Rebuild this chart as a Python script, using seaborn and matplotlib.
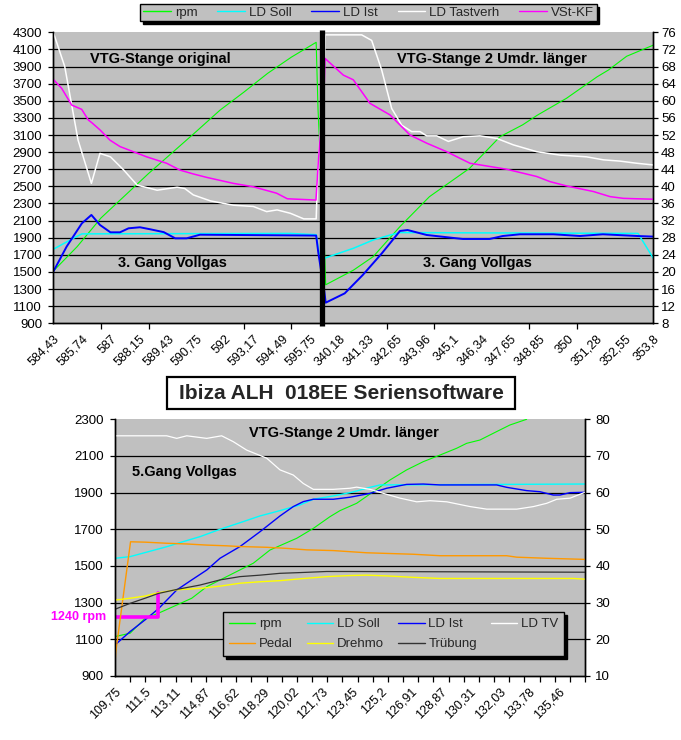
import matplotlib
matplotlib.use("Agg")
import matplotlib.pyplot as plt
import seaborn as sns
from matplotlib.lines import Line2D
from matplotlib.patches import Rectangle

# ---------------- TOP CHART DATA (x = sample index, 0..630) ----------------
top_tick_labels = ["584,43", "585,74", "587", "588,15", "589,43", "590,75", "592", "593,17",
                   "594,49", "595,75", "340,18", "341,33", "342,65", "343,96", "345,1", "346,34",
                   "347,65", "348,85", "350", "351,28", "352,55", "353,8"]
top_label_pos = list(range(0, 631, 30))
top_tick_pos = list(range(0, 601, 50))
top_break = 281.8

rpm_x = [0, 25, 50, 100, 150, 175, 200, 225, 250, 276, 278, 284.6, 286, 315, 336, 364, 395,
         437, 469, 493, 508, 539, 571, 583, 602, 630]
rpm_y = [1510, 1795, 2130, 2650, 3140, 3390, 3600, 3820, 4010, 4183, 3390, 1817, 1350, 1520,
         1680, 2030, 2380, 2710, 3080, 3220, 3330, 3530, 3780, 3860, 4020, 4150]

soll_x = [0, 21, 30, 249, 276, 279, 284.6, 315, 336, 354, 364, 614, 630]
soll_y = [1765, 1893, 1945, 1950, 1935, 1720, 1660, 1776, 1874, 1932, 1960, 1950, 1660]

ist_x = [0, 14, 30, 40, 49, 60, 70, 79, 91, 102, 116, 128, 140, 154, 276, 278.3, 284.6, 286,
         306, 325, 345, 364, 372, 392, 430, 458, 472, 490, 525, 553, 577, 613, 630]
ist_y = [1504, 1796, 2068, 2166, 2049, 1963, 1963, 2010, 2022, 1998, 1965, 1893, 1893, 1935,
         1925, 1722, 1270, 1141, 1250, 1465, 1718, 1979, 1990, 1932, 1885, 1885, 1920, 1940,
         1940, 1920, 1940, 1920, 1913]

# right axis (8..76)
tast_x = [0, 12, 26, 40, 49, 60, 74, 88, 109, 130, 138, 147, 165, 189, 210, 224, 235, 249,
          263, 276, 277.5, 285, 285.5, 323.8, 334.3, 344.8, 355.3, 365.8, 376.3, 385, 392,
          402.6, 414.8, 430.5, 448, 465.6, 483, 507.6, 532, 560, 577.5, 595, 612.6, 630]
tast_y = [76, 68.0, 50.8, 40.7, 47.7, 46.9, 43.8, 40.3, 39.1, 39.8, 39.5, 38.0, 36.6, 35.6,
          35.3, 34.1, 34.5, 33.7, 32.4, 32.4, 41.9, 70.3, 75.4, 75.4, 74.1, 67.2, 58.2, 54.3,
          52.8, 52.8, 51.8, 51.8, 50.5, 51.6, 51.8, 51.2, 49.7, 48.1, 47.3, 46.9, 46.2, 45.9,
          45.4, 45.0]

vst_x = [0, 8.8, 19.3, 29.8, 36.8, 40.3, 49, 59.5, 70, 84, 98, 119, 133, 147, 161, 189, 210,
         234.5, 245.7, 275.8, 278.3, 284.6, 285.3, 304.5, 315, 332.5, 353.5, 374.5, 392, 413,
         437.5, 476, 507.6, 521.6, 539, 567, 584.6, 598.5, 612.6, 630]
vst_y = [65.0, 62.9, 59.0, 58.0, 55.5, 54.9, 53.2, 50.8, 49.3, 48.1, 46.9, 45.4, 43.8, 42.9,
         42.1, 40.7, 39.9, 38.4, 37.1, 36.8, 45.8, 64.5, 69.9, 66.0, 64.9, 59.4, 56.7, 52.0,
         50.1, 48.1, 45.4, 44.0, 42.3, 41.1, 40.1, 38.8, 37.6, 37.2, 37.1, 37.0]

top_left_ticks = list(range(900, 4301, 200))
top_right_ticks = list(range(8, 77, 4))

# ---------------- BOTTOM CHART DATA (x = sample index, 0..620) ----------------
bot_tick_labels = ["109,75", "111,5", "113,11", "114,87", "116,62", "118,29", "120,02", "121,73",
                   "123,45", "125,2", "126,91", "128,87", "130,31", "132,03", "133,78", "135,46"]
bot_label_pos = list(range(0, 586, 39))
bot_tick_pos = list(range(0, 621, 20))

rpm2_x = [0, 19.8, 39.6, 57.1, 81.4, 101.2, 121, 147.3, 182.4, 204.4, 239.7, 261.6, 283.6,
          296.8, 318.8, 340.7, 362.7, 384.7, 406.7, 428.7, 450.7, 463.9, 481.4, 503.5, 521, 543]
rpm2_y = [1115, 1133, 1215, 1242, 1287, 1324, 1387, 1442, 1515, 1587, 1651, 1705, 1769, 1802,
          1842, 1905, 1969, 2024, 2069, 2105, 2142, 2169, 2187, 2233, 2269, 2300]

soll2_x = [0, 19.8, 39.6, 68.2, 90.1, 112.1, 138.5, 164.9, 191.3, 217.7, 244.1, 261.6, 288,
           310, 318.8, 336.4, 349.6, 620]
soll2_y = [1542, 1551, 1573, 1605, 1633, 1660, 1700, 1736, 1773, 1802, 1833, 1864, 1882, 1900,
           1909, 1929, 1942, 1947]

ist2_x = [0, 19.8, 39.6, 57.1, 81.4, 101.2, 121, 138.5, 164.9, 191.3, 217.7, 235.2, 248.4,
          261.6, 288, 310, 336.4, 358.4, 384.7, 406.7, 428.7, 503.5, 516.7, 543, 560.6, 578.2,
          587, 600.2, 620]
ist2_y = [1069, 1142, 1206, 1266, 1369, 1424, 1478, 1542, 1606, 1687, 1773, 1824, 1851, 1864,
          1864, 1875, 1896, 1924, 1945, 1947, 1942, 1942, 1929, 1911, 1905, 1887, 1887, 1900,
          1902]

# right axis (10..80)
tv2_x = [0, 68.2, 81.4, 94.6, 121, 140.7, 156, 173.7, 200.1, 217.7, 235.2, 248.4, 261.6, 288,
         310, 318.8, 336.4, 354, 376, 398, 415.6, 437.6, 468.4, 490.4, 530, 552, 569.6, 582.8,
         600.4, 620]
tv2_y = [75.5, 75.5, 74.8, 75.5, 74.8, 75.5, 73.9, 71.6, 69.4, 66.2, 64.8, 62.5, 60.9, 60.9,
         61.2, 61.5, 60.9, 59.8, 58.5, 57.5, 57.8, 57.5, 56.2, 55.5, 55.5, 56.2, 57.1, 58.2,
         58.5, 60.1]

pedal_x = [0, 1, 20.5, 39.6, 68.2, 94.6, 121, 147.3, 164.9, 200.1, 226.5, 252.9, 288, 310,
           332, 393.5, 428.7, 516.7, 530, 569.6, 620]
pedal_y = [13.4, 16.5, 46.6, 46.5, 46.2, 46.0, 45.7, 45.5, 45.3, 45.1, 44.8, 44.4, 44.2, 43.9,
           43.6, 43.2, 42.8, 42.8, 42.4, 42.1, 41.8]

drehmo_x = [0, 19.8, 39.6, 57.1, 81.4, 112.1, 138.5, 164.9, 191.3, 217.7, 244.1, 279.3, 310,
            332, 358.4, 393.5, 428.7, 604.8, 620]
drehmo_y = [30.7, 31.2, 31.8, 32.7, 33.5, 33.9, 34.5, 35.3, 35.7, 36.0, 36.5, 37.1, 37.4, 37.5,
            37.3, 36.9, 36.6, 36.6, 36.4]

trueb_x = [0, 19.8, 39.6, 57.1, 81.4, 112.1, 138.5, 164.9, 191.3, 217.7, 244.1, 279.3, 310, 620]
trueb_y = [28.2, 29.8, 31.2, 32.5, 33.6, 34.8, 36.2, 37.1, 37.5, 38.0, 38.2, 38.5, 38.5, 38.3]

bracket_x = [0, 57, 57]
bracket_y = [1220, 1220, 1355]

bot_left_ticks = list(range(900, 2301, 200))
bot_right_ticks = list(range(10, 81, 10))

# ---------------- STYLE ----------------
sns.set_style("white")
plt.rcParams["font.family"] = ["Liberation Sans", "DejaVu Sans"]

C_GREEN, C_CYAN, C_BLUE = "#00FF00", "#00FFFF", "#0000FF"
C_WHITE, C_MAG, C_ORANGE = "#FFFFFF", "#FF00FF", "#FF9900"
C_YELLOW, C_DARK = "#FFFF00", "#333333"
BG = "#C0C0C0"

fig = plt.figure(figsize=(6.81, 7.40), dpi=100)
ax1 = fig.add_axes([53.3 / 681, 1 - 323.3 / 740, 600 / 681, 291 / 740])
ax1r = ax1.twinx()
ax2 = fig.add_axes([115 / 681, 1 - 676 / 740, 470 / 681, 256.7 / 740])
ax2r = ax2.twinx()


def style(ax, axr, xmax, lticks, rticks, lab_pos, labels, tick_pos, rpad):
    ax.set_facecolor(BG)
    axr.patch.set_visible(False)
    ax.set_xlim(0, xmax)
    ax.set_ylim(lticks[0], lticks[-1])
    axr.set_ylim(rticks[0], rticks[-1])
    ax.set_yticks(lticks)
    axr.set_yticks(rticks)
    ax.grid(False)
    axr.grid(False)
    for v in lticks[1:-1]:
        ax.axhline(v, color="black", lw=0.9, zorder=0.5)
    for a in (ax, axr):
        a.spines["top"].set_visible(False)
        for s in ("left", "right", "bottom"):
            a.spines[s].set_color("black")
            a.spines[s].set_linewidth(1.0)
    ax.set_xticks(lab_pos)
    ax.set_xticklabels(labels, rotation=45, ha="right", va="top", rotation_mode="anchor")
    ax.set_xticks(tick_pos, minor=True)
    ax.tick_params(axis="x", which="major", length=0, pad=7, labelsize=9, colors="black")
    ax.tick_params(axis="x", which="minor", length=4, width=0.9, direction="out",
                   bottom=True, color="black")
    ax.tick_params(axis="y", which="major", length=3.5, width=0.9, direction="out",
                   pad=4.5, labelsize=9.5, colors="black", left=True)
    axr.tick_params(axis="y", which="major", length=3.5, width=0.9, direction="out",
                    pad=rpad, labelsize=9.5, colors="black", right=True)
    ax.set_xlabel("")
    ax.set_ylabel("")
    axr.set_ylabel("")


style(ax1, ax1r, 630, top_left_ticks, top_right_ticks, top_label_pos, top_tick_labels,
      top_tick_pos, 2)
style(ax2, ax2r, 620, bot_left_ticks, bot_right_ticks, bot_label_pos, bot_tick_labels,
      bot_tick_pos, 4)


def line(ax, x, y, color, lw):
    sns.lineplot(x=x, y=y, ax=ax, color=color, linewidth=lw, sort=False, estimator=None,
                 legend=False)


# top lines
line(ax1, rpm_x, rpm_y, C_GREEN, 0.8)
line(ax1, soll_x, soll_y, C_CYAN, 1.1)
line(ax1, ist_x, ist_y, C_BLUE, 1.4)
line(ax1r, tast_x, tast_y, C_WHITE, 1.1)
line(ax1r, vst_x, vst_y, C_MAG, 1.1)
ax1r.axvline(top_break, ymin=-0.008, ymax=1.008, color="black", lw=3.8, clip_on=False,
             solid_capstyle="butt")

# bottom lines
line(ax2, rpm2_x, rpm2_y, C_GREEN, 0.8)
line(ax2, soll2_x, soll2_y, C_CYAN, 1.0)
line(ax2, ist2_x, ist2_y, C_BLUE, 1.0)
line(ax2r, tv2_x, tv2_y, C_WHITE, 0.9)
line(ax2r, pedal_x, pedal_y, C_ORANGE, 1.0)
line(ax2r, drehmo_x, drehmo_y, C_YELLOW, 1.0)
line(ax2r, trueb_x, trueb_y, C_DARK, 0.9)
line(ax2, bracket_x, bracket_y, C_MAG, 2.6)
ax2.text(-11.5, 1220, "1240 rpm", ha="right", va="center", color=C_MAG, fontsize=9,
         fontweight="bold", clip_on=False)

# annotations
bold = dict(ha="center", va="center", fontsize=10.5, fontweight="bold", color="black")
ax1.text(112, 3988, "VTG-Stange original", **bold)
ax1.text(125.5, 1602, "3. Gang Vollgas", **bold)
ax1.text(461, 3988, "VTG-Stange 2 Umdr. länger", **bold)
ax1.text(445, 1602, "3. Gang Vollgas", **bold)
ax2.text(302, 2225, "VTG-Stange 2 Umdr. länger", **bold)
ax2.text(92, 2014, "5.Gang Vollgas", **bold)

# title box
fig.patches.append(Rectangle((167 / 681, 1 - 409 / 740), 348 / 681, 32 / 740,
                             transform=fig.transFigure, fc="white", ec="black", lw=1.6))
fig.text(341 / 681, 1 - 393.5 / 740, "Ibiza ALH  018EE Seriensoftware", ha="center",
         va="center", fontsize=15, fontweight="bold")


def h(c, lw=1.0):
    return Line2D([], [], color=c, lw=lw)


leg1 = fig.legend([h(C_GREEN), h(C_CYAN), h(C_BLUE), h(C_WHITE), h(C_MAG)],
                  ["rpm", "LD Soll", "LD Ist", "LD Tastverh", "VSt-KF"],
                  loc="center", bbox_to_anchor=(368.5 / 681, 1 - 12.5 / 740), ncol=5,
                  frameon=True, fancybox=False, shadow={"color": "black", "alpha": 1},
                  edgecolor="black", facecolor=BG, framealpha=1, fontsize=9.5,
                  handlelength=2.1, handletextpad=0.3, columnspacing=1.5, borderpad=0.2,
                  borderaxespad=0)
leg1.get_frame().set_linewidth(1.0)

leg2 = fig.legend([h(C_GREEN), h(C_ORANGE), h(C_CYAN), h(C_YELLOW), h(C_BLUE), h(C_DARK),
                   h(C_WHITE)],
                  ["rpm", "Pedal", "LD Soll", "Drehmo", "LD Ist", "Trübung", "LD TV"],
                  loc="center", bbox_to_anchor=(393.7 / 681, 1 - 634.2 / 740), ncol=4,
                  frameon=True, fancybox=False, shadow={"color": "black", "alpha": 1},
                  edgecolor="black", facecolor=BG, framealpha=1, fontsize=9.5,
                  handlelength=2.0, handletextpad=0.3, columnspacing=1.05, borderpad=0.45,
                  labelspacing=0.6, borderaxespad=0)
leg2.get_frame().set_linewidth(1.0)

fig.savefig("out.png", dpi=100, facecolor="white")
